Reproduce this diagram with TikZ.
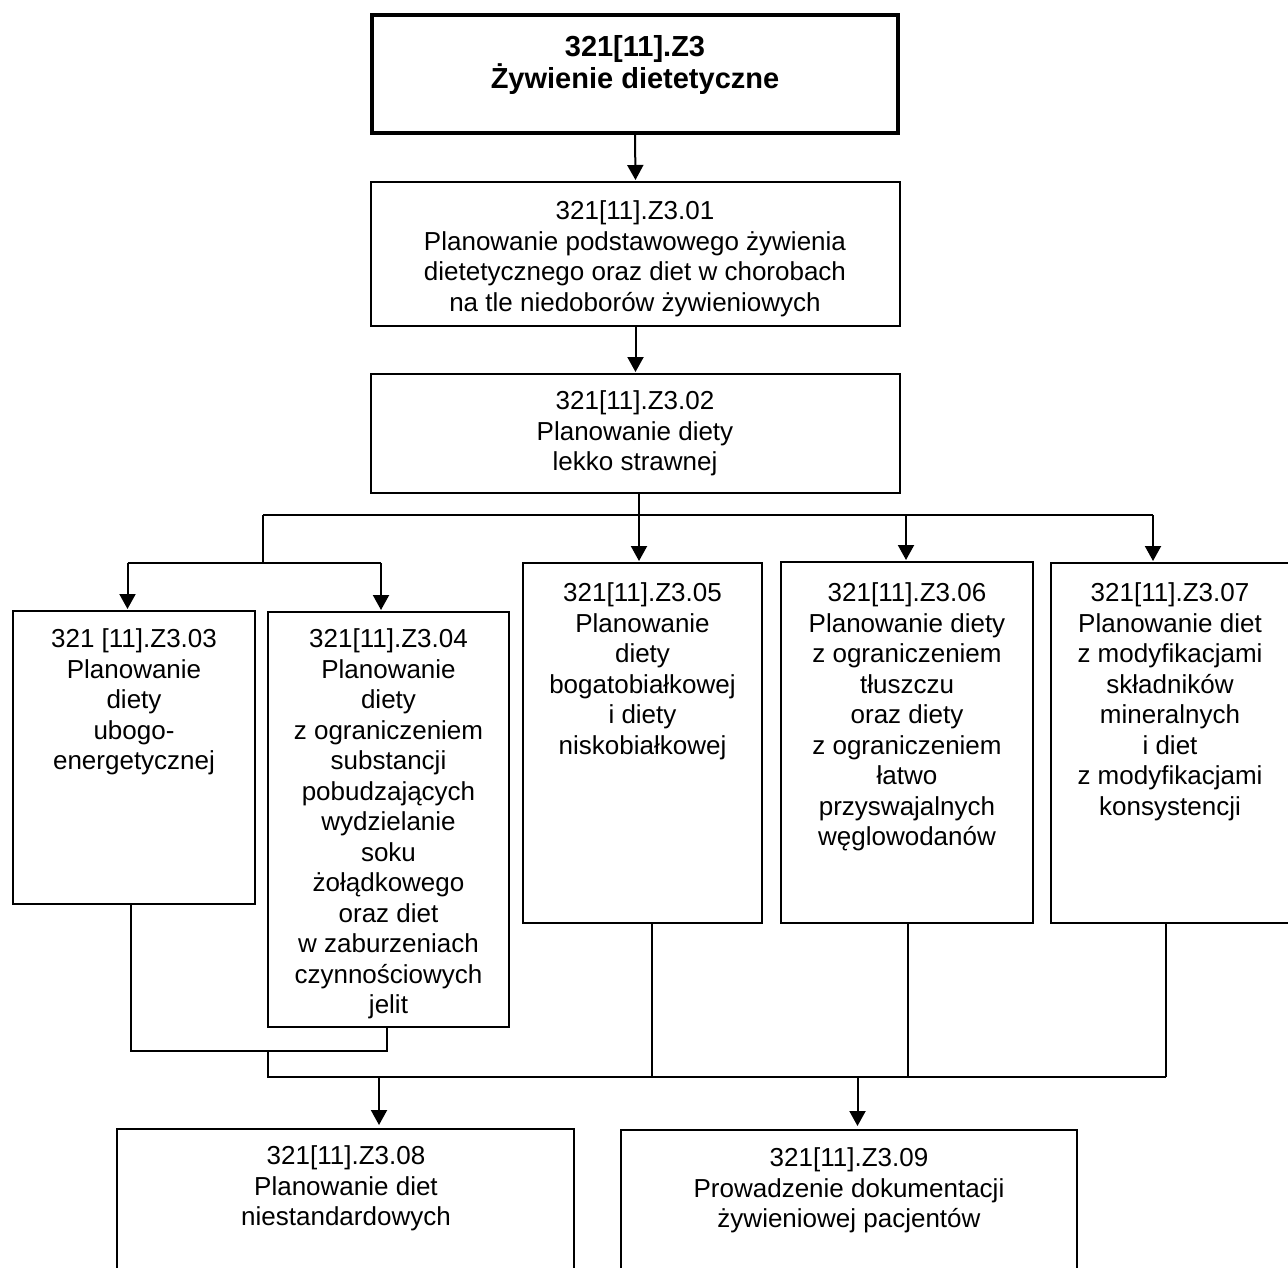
\documentclass[tikz,border=0pt]{standalone}
\usepackage{fontspec}
\setmainfont{Liberation Sans}
\usetikzlibrary{fit,arrows.meta}
\begin{document}
\begin{tikzpicture}[x=1pt,y=-1pt,
  box/.style={draw, line width=2pt, inner sep=0pt, minimum size=0pt},
  topbox/.style={draw, line width=4pt, inner sep=0pt, minimum size=0pt},
  txt/.style={anchor=north, align=center, inner sep=0pt, font=\fontsize{26}{30.5}\selectfont},
  ttxt/.style={anchor=north, align=center, inner sep=0pt, font=\bfseries\fontsize{29}{32}\selectfont},
  conn/.style={line width=2pt},
  arr/.style={line width=2pt, -{Triangle[length=15pt,width=16pt]}, shorten >=1pt}]
\useasboundingbox (0,0) rectangle (1288,1267);
\fill[white] (0,0) rectangle (1288,1267);
\clip (0,0) rectangle (1288,1267);

% boxes
\node[topbox, fit={(372,15) (898,133)}] (top) {};
\node[box, fit={(371,182) (900,326)}] (b1) {};
\node[box, fit={(371,374) (900,493)}] (b2) {};
\node[box, fit={(13,611) (255,904)}] (b3) {};
\node[box, fit={(268,612) (509,1027)}] (b4) {};
\node[box, fit={(523,563) (762,923)}] (b5) {};
\node[box, fit={(781,562) (1033,923)}] (b6) {};
\node[box, fit={(1051,563) (1300,923)}] (b7) {};
\node[box, fit={(117,1129) (574,1400)}] (b8) {};
\node[box, fit={(621,1130) (1077,1400)}] (b9) {};

% texts
\node[ttxt] (t0) at (635,35) {321[11].Z3\\Żywienie dietetyczne};
\node[txt] (t1) at (635,200.5) {321[11].Z3.01\\Planowanie podstawowego żywienia\\dietetycznego oraz diet w chorobach\\na tle niedoborów żywieniowych};
\node[txt] (t2) at (635,390.5) {321[11].Z3.02\\Planowanie diety\\lekko strawnej};
\node[txt] (t3) at (134,628.5) {321 [11].Z3.03\\Planowanie\\diety\\ubogo-\\energetycznej};
\node[txt] (t4) at (388.5,628.5) {321[11].Z3.04\\Planowanie\\diety\\z ograniczeniem\\substancji\\pobudzających\\wydzielanie\\soku\\żołądkowego\\oraz diet\\w zaburzeniach\\czynnościowych\\jelit};
\node[txt] (t5) at (642.5,582.5) {321[11].Z3.05\\Planowanie\\diety\\bogatobiałkowej\\i diety\\niskobiałkowej};
\node[txt] (t6) at (907,582.5) {321[11].Z3.06\\Planowanie diety\\z ograniczeniem\\tłuszczu\\oraz diety\\z ograniczeniem\\łatwo\\przyswajalnych\\węglowodanów};
\node[txt] (t7) at (1170,582.5) {321[11].Z3.07\\Planowanie diet\\z modyfikacjami\\składników\\mineralnych\\i diet\\z modyfikacjami\\konsystencji};
\node[txt] (t8) at (346,1145.5) {321[11].Z3.08\\Planowanie diet\\niestandardowych};
\node[txt] (t9) at (849,1147.5) {321[11].Z3.09\\Prowadzenie dokumentacji\\żywieniowej pacjentów};

% junction coordinates
\coordinate (hl) at (263,515);
\coordinate (hr) at (1153,515);
\coordinate (d5) at (639,515);
\coordinate (d6) at (906,515);
\coordinate (sl) at (263,563);
\coordinate (a3) at (127.5,563);
\coordinate (a4) at (381,563);
\coordinate (c3) at (131,1051);
\coordinate (c4) at (387,1051);
\coordinate (st) at (268,1051);
\coordinate (bl) at (268,1077);
\coordinate (br) at (1166,1077);
\coordinate (e5) at (652,1077);
\coordinate (e6) at (908,1077);
\coordinate (a8) at (379,1077);
\coordinate (a9) at (857.5,1077);

% top connectors
\draw[arr] (top.south) -- (b1.north);
\draw[arr] (b1.south) -- (b2.north);
\draw[arr] (d5 |- b2.south) -- (d5 |- b5.north);
\draw[conn] (hl) -- (hr);
\draw[arr] (d6) -- (d6 |- b6.north);
\draw[arr] (hr) -- (hr |- b7.north);
\draw[conn] (hl) -- (sl);
\draw[conn] (a3) -- (a4);
\draw[arr] (a3) -- (a3 |- b3.north);
\draw[arr] (a4) -- (a4 |- b4.north);

% bottom connectors
\draw[conn] (c3 |- b3.south) -- (c3) -- (c4) -- (c4 |- b4.south);
\draw[conn] (st) -- (bl) -- (br);
\draw[conn] (e5 |- b5.south) -- (e5);
\draw[conn] (e6 |- b6.south) -- (e6);
\draw[conn] (br |- b7.south) -- (br);
\draw[arr, shorten >=3pt] (a8) -- (a8 |- b8.north);
\draw[arr, shorten >=3pt] (a9) -- (a9 |- b9.north);
\end{tikzpicture}
\end{document}
